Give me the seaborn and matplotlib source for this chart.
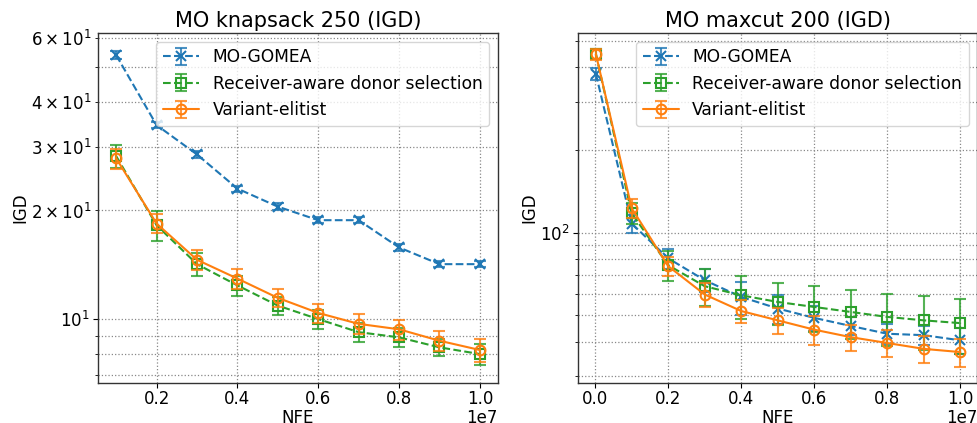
import numpy as np
import pandas as pd
import matplotlib
matplotlib.use("Agg")
import matplotlib.pyplot as plt
import seaborn as sns
from matplotlib.legend_handler import HandlerTuple

# ---- data: mean IGD and spread per evaluation budget ----
series_names = ["MO-GOMEA", "Receiver-aware donor selection", "Variant-elitist"]

nfe_knapsack = [1e6, 2e6, 3e6, 4e6, 5e6, 6e6, 7e6, 8e6, 9e6, 1e7]
gomea_knapsack = [53.9, 34.5, 28.6, 23.0, 20.5, 18.8, 18.8, 15.8, 14.2, 14.2]
gomea_knapsack_sd = [1.4, 0.7, 0.55, 0.45, 0.42, 0.38, 0.38, 0.33, 0.3, 0.3]
receiver_knapsack = [28.3, 18.2, 14.2, 12.4, 10.9, 10.0, 9.2, 8.9, 8.35, 8.0]
receiver_knapsack_sd = [2.0, 1.75, 1.05, 0.8, 0.65, 0.62, 0.55, 0.53, 0.46, 0.55]
elitist_knapsack = [27.9, 18.4, 14.6, 12.95, 11.45, 10.4, 9.7, 9.37, 8.71, 8.21]
elitist_knapsack_sd = [1.8, 1.1, 0.95, 0.8, 0.65, 0.63, 0.6, 0.6, 0.57, 0.6]

nfe_maxcut = [2e4, 1e6, 2e6, 3e6, 4e6, 5e6, 6e6, 7e6, 8e6, 9e6, 1e7]
gomea_maxcut = [378, 108, 80.7, 67.2, 58.4, 53.0, 49.0, 45.8, 42.9, 42.4, 40.6]
gomea_maxcut_sd = [19, 8.3, 6.7, 6.5, 8.0, 6.6, 5.0, 3.5, 3.5, 3.5, 4.3]
receiver_maxcut = [448, 117.7, 76.2, 63.9, 59.2, 56.0, 53.7, 51.5, 49.4, 48.0, 46.9]
receiver_maxcut_sd = [20, 10.3, 9.5, 9.8, 10.5, 9.8, 10.2, 10.3, 10.7, 10.7, 10.7]
elitist_maxcut = [446, 122.8, 75.6, 59.6, 51.9, 48.0, 44.4, 41.7, 39.7, 37.8, 36.8]
elitist_maxcut_sd = [20, 9.4, 6.0, 6.0, 5.0, 5.3, 5.3, 4.6, 4.4, 4.2, 4.3]

# ---- styling ----
sns.set_style("white")
plt.rcParams.update({
    "font.family": ["DejaVu Sans"],
    "font.size": 12,
    "axes.titlesize": 15,
    "axes.titlepad": 4,
    "axes.labelsize": 12,
    "xtick.labelsize": 12,
    "ytick.labelsize": 12,
    "legend.fontsize": 12.3,
    "text.color": "black",
    "axes.labelcolor": "black",
    "xtick.color": "black",
    "ytick.color": "black",
    "axes.edgecolor": "#333333",
    "axes.linewidth": 1.0,
    "xtick.bottom": True,
    "ytick.left": True,
    "xtick.major.pad": 1.2,
    "ytick.major.pad": 2.5,
    "ytick.minor.pad": 2.5,
    "ytick.minor.size": 2,
})

palette = sns.color_palette("tab10")
styles = {
    "MO-GOMEA": dict(color=palette[0], marker="x", ls="--"),
    "Receiver-aware donor selection": dict(color=palette[2], marker="s", ls="--"),
    "Variant-elitist": dict(color=palette[1], marker="o", ls="-"),
}


def draw_panel(ax, x, means, sds, title, xlim, ylim):
    handles = []
    for name, m, s in zip(series_names, means, sds):
        st = styles[name]
        df = pd.DataFrame({"NFE": x, "IGD": m})
        sns.lineplot(data=df, x="NFE", y="IGD", ax=ax, color=st["color"],
                     linestyle=st["ls"], linewidth=1.5, marker=st["marker"],
                     markersize=7, markerfacecolor="none",
                     markeredgecolor=st["color"], markeredgewidth=1.5,
                     legend=False)
        line = ax.lines[-1]
        err = ax.errorbar(x, m, yerr=s, fmt="none", ecolor=st["color"],
                          elinewidth=1.5, capsize=4, capthick=1.5, alpha=0.8)
        handles.append((err, line))
    ax.set_yscale("log")
    ax.set_xlim(*xlim)
    ax.set_ylim(*ylim)
    ax.set_title(title)
    ax.set_xlabel("NFE", labelpad=1)
    ax.set_ylabel("IGD", labelpad=1)
    ax.xaxis.OFFSETTEXTPAD = 1
    ax.grid(True, which="major", linestyle=":", color="#888888", linewidth=0.9)
    ax.yaxis.grid(True, which="minor", linestyle=":", color="#888888", linewidth=0.9)
    ax.legend(handles, series_names, loc="upper right", handlelength=2.1,
              handler_map={tuple: HandlerTuple(ndivide=1)})


fig = plt.figure(figsize=(9.78, 4.23), dpi=100)
ax1 = fig.add_axes([98 / 978, 1 - 383 / 423, 400 / 978, 350 / 423])
ax2 = fig.add_axes([578 / 978, 1 - 383 / 423, 399.5 / 978, 350 / 423])

draw_panel(ax1, nfe_knapsack,
           [gomea_knapsack, receiver_knapsack, elitist_knapsack],
           [gomea_knapsack_sd, receiver_knapsack_sd, elitist_knapsack_sd],
           "MO knapsack 250 (IGD)", (0.055e7, 1.045e7), (6.65, 62.1))
draw_panel(ax2, nfe_maxcut,
           [gomea_maxcut, receiver_maxcut, elitist_maxcut],
           [gomea_maxcut_sd, receiver_maxcut_sd, elitist_maxcut_sd],
           "MO maxcut 200 (IGD)", (-0.047e7, 1.047e7), (28.4, 533))

fig.savefig("out.png", dpi=100)
